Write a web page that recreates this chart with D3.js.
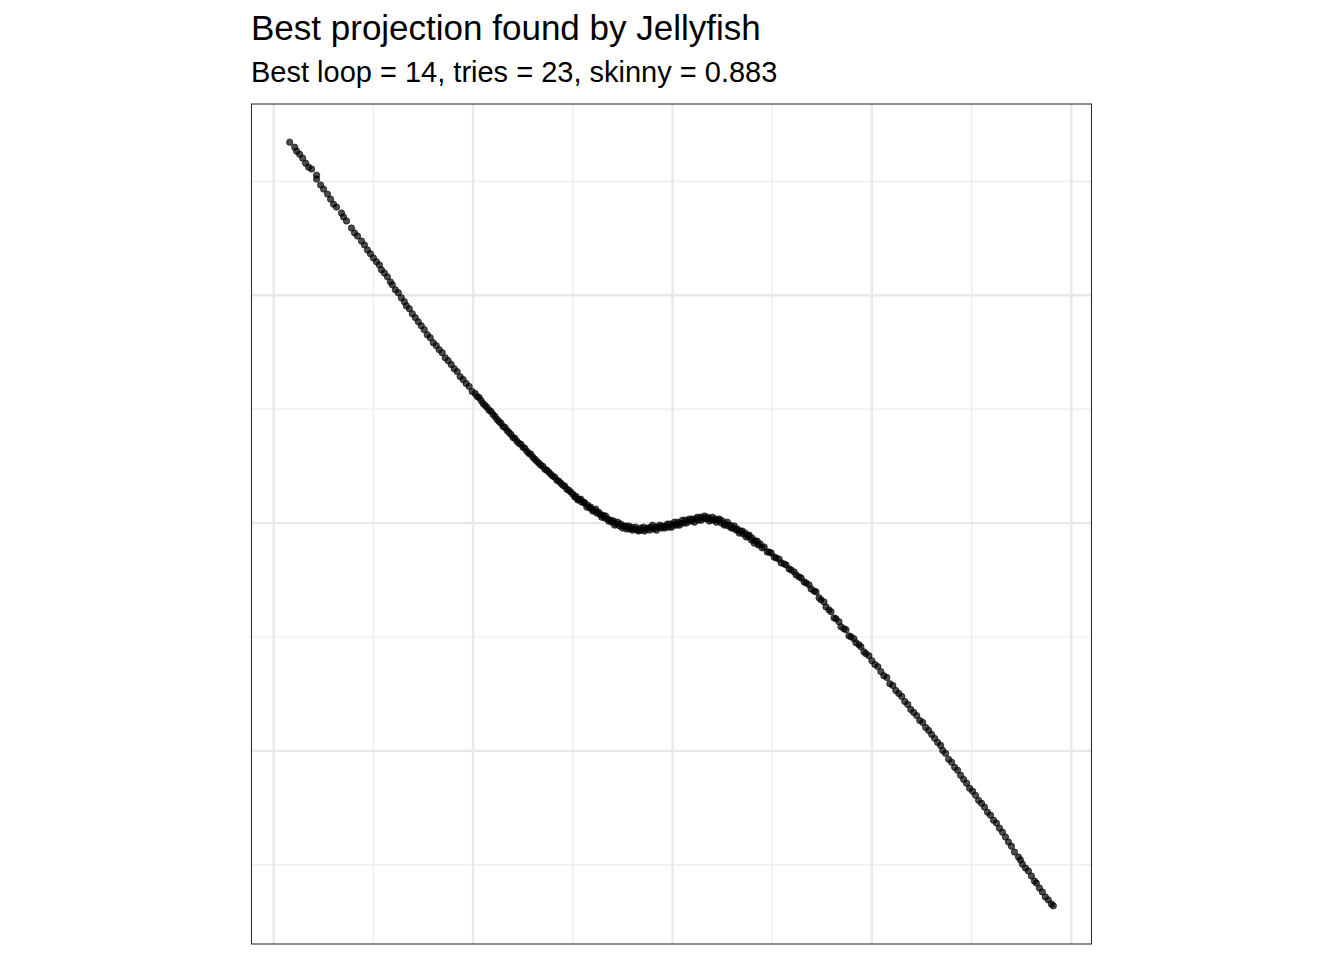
<!DOCTYPE html>
<html>
<head>
<meta charset="utf-8">
<script src="https://cdn.jsdelivr.net/npm/d3@7"></script>
<style>
  html, body { margin: 0; padding: 0; background: #ffffff; }
  svg { display: block; }
  text { font-family: "Liberation Sans", Arial, Helvetica, sans-serif; }
</style>
</head>
<body>
<svg id="chart" width="1344" height="960"></svg>
<script>
const title = "Best projection found by Jellyfish";
const subtitle = "Best loop = 14, tries = 23, skinny = 0.883";

const xMajor = [-2, -1, 0, 1, 2];
const xMinor = [-1.5, -0.5, 0.5, 1.5];
const yMajor = [-1, 0, 1];
const yMinor = [-1.5, -0.5, 0.5, 1.5];

// projected coordinates [x, y]
const projection = [
  [-1.92,1.672],[-1.895,1.650],[-1.885,1.632],[-1.87,1.619],[-1.855,1.602],[-1.84,1.580],[-1.825,1.562],[-1.81,1.554],
  [-1.785,1.527],[-1.785,1.510],[-1.765,1.484],[-1.75,1.466],[-1.73,1.444],[-1.715,1.422],[-1.70,1.400],[-1.685,1.387],
  [-1.66,1.361],[-1.65,1.344],[-1.635,1.326],[-1.61,1.295],[-1.595,1.274],[-1.58,1.260],[-1.56,1.238],[-1.545,1.221],
  [-1.53,1.199],[-1.515,1.182],[-1.50,1.164],
  [-1.485,1.147],[-1.47,1.133],[-1.46,1.112],[-1.445,1.098],[-1.43,1.081],[-1.415,1.059],[-1.405,1.046],[-1.39,1.024],
  [-1.375,1.011],[-1.36,0.989],[-1.345,0.972],[-1.335,0.954],[-1.32,0.941],[-1.305,0.919],[-1.29,0.902],[-1.275,0.884],
  [-1.26,0.866],[-1.245,0.849],[-1.23,0.827],[-1.215,0.814],[-1.20,0.792],[-1.185,0.779],[-1.17,0.761],[-1.155,0.748],
  [-1.14,0.726],[-1.125,0.713],[-1.11,0.696],[-1.095,0.678],[-1.08,0.665],[-1.065,0.643],[-1.05,0.630],[-1.035,0.613],
  [-1.02,0.600],[-1.005,0.578],
  [-0.99,0.569],[-0.98,0.556],[-0.97,0.551],[-0.96,0.538],[-0.95,0.525],[-0.94,0.516],[-0.93,0.508],[-0.92,0.495],
  [-0.91,0.490],[-0.90,0.477],[-0.89,0.468],[-0.88,0.455],[-0.87,0.446],[-0.86,0.438],[-0.85,0.424],[-0.84,0.420],
  [-0.83,0.407],[-0.82,0.398],[-0.81,0.389],[-0.80,0.376],[-0.79,0.372],[-0.78,0.359],[-0.77,0.350],[-0.76,0.346],
  [-0.75,0.333],[-0.74,0.328],[-0.73,0.315],[-0.72,0.306],[-0.71,0.302],[-0.70,0.289],[-0.69,0.280],[-0.68,0.271],
  [-0.67,0.263],[-0.66,0.254],[-0.65,0.249],[-0.64,0.236],[-0.63,0.232],[-0.62,0.223],[-0.61,0.214],[-0.60,0.206],
  [-0.59,0.201],[-0.58,0.188],[-0.57,0.184],[-0.56,0.175],[-0.55,0.166],[-0.54,0.162],[-0.53,0.149],[-0.52,0.144],
  [-0.51,0.136],[-0.50,0.127],
  [-0.49,0.114],[-0.485,0.118],[-0.475,0.101],[-0.47,0.105],[-0.46,0.105],[-0.455,0.092],[-0.445,0.092],[-0.44,0.088],
  [-0.43,0.070],[-0.425,0.079],[-0.415,0.066],[-0.41,0.070],[-0.40,0.053],[-0.395,0.057],[-0.385,0.061],[-0.38,0.044],
  [-0.37,0.048],[-0.365,0.039],[-0.355,0.026],[-0.35,0.035],[-0.34,0.022],[-0.335,0.031],[-0.325,0.018],[-0.32,0.009],
  [-0.31,0.013],[-0.305,0.004],[-0.295,0.009],[-0.29,-0.009],[-0.28,-0.004],[-0.275,0.004],[-0.265,-0.013],[-0.26,-0.004],
  [-0.25,-0.022],[-0.245,-0.013],[-0.235,-0.013],[-0.23,-0.026],[-0.22,-0.013],[-0.215,-0.026],[-0.205,-0.018],[-0.20,-0.031],
  [-0.19,-0.026],[-0.185,-0.018],[-0.175,-0.031],[-0.17,-0.035],[-0.16,-0.022],[-0.155,-0.031],[-0.145,-0.018],[-0.14,-0.035],
  [-0.13,-0.026],[-0.125,-0.022],[-0.115,-0.031],[-0.11,-0.018],[-0.10,-0.009],[-0.095,-0.026],[-0.085,-0.018],[-0.08,-0.031],
  [-0.07,-0.018],[-0.065,-0.009],[-0.055,-0.022],[-0.05,-0.013],[-0.04,-0.022],[-0.035,-0.013],[-0.025,-0.004],[-0.02,-0.018],
  [-0.01,-0.004],[-0.005,-0.018],[0.005,-0.009],[0.01,0.004],[0.02,-0.009],[0.025,0.004],[0.035,-0.009],[0.04,0.000],
  [0.05,0.013],[0.055,0.000],[0.065,0.013],[0.07,0.000],[0.08,0.009],[0.085,0.018],[0.095,0.009],[0.10,0.018],
  [0.11,0.004],[0.115,0.018],[0.125,0.026],[0.13,0.013],[0.14,0.026],[0.145,0.013],[0.155,0.022],[0.16,0.031],
  [0.17,0.018],[0.175,0.026],[0.185,0.009],[0.19,0.018],[0.20,0.026],[0.205,0.013],[0.215,0.018],[0.22,0.004],
  [0.23,0.013],[0.235,0.018],[0.245,0.000],[0.25,0.009],[0.26,-0.009],[0.265,-0.004],[0.275,0.004],[0.28,-0.013],
  [0.29,-0.009],[0.295,-0.022],[0.305,-0.022],[0.31,-0.013],[0.32,-0.031],[0.325,-0.026],[0.335,-0.044],[0.34,-0.035],
  [0.35,-0.035],[0.355,-0.048],[0.365,-0.044],[0.37,-0.061],[0.38,-0.057],[0.385,-0.053],[0.395,-0.074],[0.40,-0.066],
  [0.41,-0.088],[0.415,-0.079],[0.425,-0.079],[0.43,-0.096],[0.44,-0.092],
  [0.45,-0.109],[0.46,-0.105],[0.475,-0.127],[0.485,-0.127],[0.495,-0.131],[0.51,-0.149],[0.52,-0.153],[0.535,-0.158],
  [0.545,-0.175],[0.56,-0.179],[0.57,-0.184],[0.585,-0.201],[0.595,-0.206],[0.61,-0.214],[0.62,-0.228],[0.635,-0.236],
  [0.645,-0.241],[0.66,-0.258],[0.67,-0.263],[0.685,-0.271],[0.695,-0.289],[0.71,-0.298],[0.72,-0.302],[0.735,-0.328],
  [0.745,-0.337],[0.76,-0.346],[0.77,-0.368],[0.785,-0.381],[0.795,-0.389],[0.81,-0.416],[0.82,-0.420],[0.835,-0.433],
  [0.845,-0.455],[0.86,-0.464],[0.87,-0.468],[0.885,-0.495],[0.895,-0.499],[0.91,-0.508],[0.92,-0.525],[0.935,-0.534],
  [0.945,-0.543],[0.96,-0.565],[0.97,-0.573],[0.985,-0.582],
  [1.00,-0.604],[1.015,-0.621],[1.03,-0.630],[1.045,-0.652],[1.06,-0.670],[1.075,-0.678],[1.09,-0.705],[1.105,-0.713],
  [1.12,-0.735],[1.135,-0.748],[1.15,-0.761],[1.165,-0.783],[1.18,-0.796],[1.195,-0.818],[1.21,-0.831],[1.225,-0.845],
  [1.24,-0.866],[1.255,-0.875],[1.27,-0.897],[1.285,-0.910],[1.30,-0.928],[1.315,-0.945],[1.33,-0.963],[1.345,-0.976],
  [1.355,-0.998],[1.37,-1.011],[1.385,-1.037],[1.40,-1.050],[1.415,-1.072],[1.43,-1.085],[1.445,-1.107],[1.46,-1.125],
  [1.475,-1.142],[1.49,-1.164],[1.505,-1.177],[1.52,-1.195],[1.535,-1.217],[1.55,-1.230],[1.565,-1.247],[1.58,-1.269],
  [1.595,-1.282],[1.61,-1.304],[1.625,-1.317],[1.64,-1.339],[1.655,-1.357],[1.67,-1.378],[1.685,-1.400],[1.70,-1.418],
  [1.715,-1.444],[1.735,-1.466],[1.745,-1.479],[1.755,-1.497],[1.77,-1.514],[1.785,-1.527],[1.80,-1.549],[1.815,-1.571],
  [1.825,-1.580],[1.84,-1.602],[1.855,-1.619],[1.87,-1.641],[1.885,-1.654],[1.90,-1.672],[1.91,-1.680]
];

const svg = d3.select("#chart");
const panel = { left: 251.5, top: 104, right: 1091.5, bottom: 944 };

function expanded(ext) {
  const pad = (ext[1] - ext[0]) * 0.05;
  return [ext[0] - pad, ext[1] + pad];
}
const x = d3.scaleLinear()
  .domain(expanded(d3.extent(projection, d => d[0])))
  .range([panel.left, panel.right]);
const y = d3.scaleLinear()
  .domain(expanded(d3.extent(projection, d => d[1])))
  .range([panel.bottom, panel.top]);

const W = panel.right - panel.left, H = panel.bottom - panel.top;

svg.append("rect").attr("x", panel.left).attr("y", panel.top)
  .attr("width", W).attr("height", H).attr("fill", "#ffffff");

const grid = svg.append("g");
grid.selectAll(".xmin").data(xMinor).join("line")
  .attr("x1", d => x(d)).attr("x2", d => x(d))
  .attr("y1", panel.top).attr("y2", panel.bottom)
  .attr("stroke", "#ebebeb").attr("stroke-width", 1.2);
grid.selectAll(".ymin").data(yMinor).join("line")
  .attr("y1", d => y(d)).attr("y2", d => y(d))
  .attr("x1", panel.left).attr("x2", panel.right)
  .attr("stroke", "#ebebeb").attr("stroke-width", 1.2);
grid.selectAll(".xmaj").data(xMajor).join("line")
  .attr("x1", d => x(d)).attr("x2", d => x(d))
  .attr("y1", panel.top).attr("y2", panel.bottom)
  .attr("stroke", "#e8e8e8").attr("stroke-width", 2.4);
grid.selectAll(".ymaj").data(yMajor).join("line")
  .attr("y1", d => y(d)).attr("y2", d => y(d))
  .attr("x1", panel.left).attr("x2", panel.right)
  .attr("stroke", "#e8e8e8").attr("stroke-width", 2.4);

svg.append("g").selectAll("circle").data(projection).join("circle")
  .attr("cx", d => x(d[0])).attr("cy", d => y(d[1]))
  .attr("r", 3.2)
  .attr("fill", "#000000").attr("fill-opacity", 0.7)
  .attr("stroke", "#000000").attr("stroke-opacity", 0.7).attr("stroke-width", 0.8);

svg.append("rect").attr("x", panel.left).attr("y", panel.top)
  .attr("width", W).attr("height", H)
  .attr("fill", "none").attr("stroke", "#333333").attr("stroke-width", 1.1);

svg.append("text").attr("x", 251).attr("y", 40)
  .attr("font-size", 35).attr("fill", "#000000").text(title);
svg.append("text").attr("x", 251).attr("y", 82)
  .attr("font-size", 29).attr("fill", "#000000").text(subtitle);
</script>
</body>
</html>
